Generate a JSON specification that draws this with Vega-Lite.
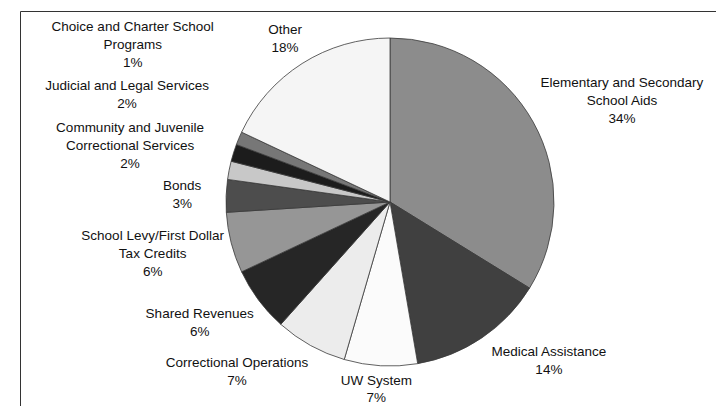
{
  "$schema": "https://vega.github.io/schema/vega-lite/v6.json",
  "width": 740,
  "height": 382,
  "autosize": {"type": "none"},
  "padding": {"left": 20, "top": 11, "right": 0, "bottom": 24},
  "background": "white",
  "config": {"view": {"stroke": null}},
  "data": {
    "values": [
      {"category": "Elementary and Secondary School Aids", "label": "Elementary and Secondary\nSchool Aids\n34%", "value": 33.8, "order": 1},
      {"category": "Medical Assistance", "label": "Medical Assistance\n14%", "value": 13.5, "order": 2},
      {"category": "UW System", "label": "UW System\n7%", "value": 7.2, "order": 3},
      {"category": "Correctional Operations", "label": "Correctional Operations\n7%", "value": 7.1, "order": 4},
      {"category": "Shared Revenues", "label": "Shared Revenues\n6%", "value": 6.4, "order": 5},
      {"category": "School Levy/First Dollar Tax Credits", "label": "School Levy/First Dollar\nTax Credits\n6%", "value": 6.0, "order": 6},
      {"category": "Bonds", "label": "Bonds\n3%", "value": 3.2, "order": 7},
      {"category": "Community and Juvenile Correctional Services", "label": "Community and Juvenile\nCorrectional Services\n2%", "value": 1.8, "order": 8},
      {"category": "Judicial and Legal Services", "label": "Judicial and Legal Services\n2%", "value": 1.7, "order": 9},
      {"category": "Choice and Charter School Programs", "label": "Choice and Charter School\nPrograms\n1%", "value": 1.3, "order": 10},
      {"category": "Other", "label": "Other\n18%", "value": 18.0, "order": 11}
    ]
  },
  "layer": [
    {
      "mark": {"type": "point", "opacity": 0},
      "encoding": {
        "x": {"datum": 0, "type": "quantitative", "scale": {"domain": [0, 1]},
              "axis": {"orient": "top", "domain": true, "domainColor": "#333333", "domainWidth": 1, "ticks": false, "labels": false, "grid": false, "title": null}},
        "y": {"datum": 0, "type": "quantitative", "scale": {"domain": [0, 1], "range": [395, 0]},
              "axis": {"orient": "left", "domain": true, "domainColor": "#333333", "domainWidth": 1, "ticks": false, "labels": false, "grid": false, "title": null}}
      }
    },
    {
      "mark": {"type": "arc", "outerRadius": 164, "stroke": "#3a3a3a", "strokeWidth": 0.8},
      "encoding": {
        "theta": {"field": "value", "type": "quantitative", "stack": true, "scale": {"domain": [0, 100]}},
        "order": {"field": "order", "type": "quantitative"},
        "color": {
          "field": "category", "type": "nominal", "legend": null,
          "scale": {
            "domain": ["Elementary and Secondary School Aids", "Medical Assistance", "UW System", "Correctional Operations", "Shared Revenues", "School Levy/First Dollar Tax Credits", "Bonds", "Community and Juvenile Correctional Services", "Judicial and Legal Services", "Choice and Charter School Programs", "Other"],
            "range": ["#8c8c8c", "#404040", "#fbfbfb", "#ececec", "#262626", "#969696", "#4d4d4d", "#c8c8c8", "#1c1c1c", "#777777", "#f5f5f5"]
          }
        }
      }
    },
    {
      "mark": {"type": "text", "radius": 253, "dx": 11, "dy": 4, "font": "Liberation Sans", "fontSize": 13.5, "lineHeight": 18, "lineBreak": "\n", "align": "center", "baseline": "middle", "color": "#111111"},
      "encoding": {
        "theta": {"field": "value", "type": "quantitative", "stack": true},
        "order": {"field": "order", "type": "quantitative"},
        "text": {"condition": {"test": "datum.order === 1", "field": "label"}, "value": ""}
      }
    },
    {
      "mark": {"type": "text", "radius": 225, "dx": 33, "dy": -36, "font": "Liberation Sans", "fontSize": 13.5, "lineHeight": 18, "lineBreak": "\n", "align": "center", "baseline": "middle", "color": "#111111"},
      "encoding": {
        "theta": {"field": "value", "type": "quantitative", "stack": true},
        "order": {"field": "order", "type": "quantitative"},
        "text": {"condition": {"test": "datum.order === 2", "field": "label"}, "value": ""}
      }
    },
    {
      "mark": {"type": "text", "radius": 190, "dx": -3, "dy": -11, "font": "Liberation Sans", "fontSize": 13.5, "lineHeight": 17, "lineBreak": "\n", "align": "center", "baseline": "middle", "color": "#111111"},
      "encoding": {
        "theta": {"field": "value", "type": "quantitative", "stack": true},
        "order": {"field": "order", "type": "quantitative"},
        "text": {"condition": {"test": "datum.order === 3", "field": "label"}, "value": ""}
      }
    },
    {
      "mark": {"type": "text", "radius": 229, "dx": -42, "dy": -39, "font": "Liberation Sans", "fontSize": 13.5, "lineHeight": 18, "lineBreak": "\n", "align": "center", "baseline": "middle", "color": "#111111"},
      "encoding": {
        "theta": {"field": "value", "type": "quantitative", "stack": true},
        "order": {"field": "order", "type": "quantitative"},
        "text": {"condition": {"test": "datum.order === 4", "field": "label"}, "value": ""}
      }
    },
    {
      "mark": {"type": "text", "radius": 225, "dx": -10, "dy": -23, "font": "Liberation Sans", "fontSize": 13.5, "lineHeight": 18, "lineBreak": "\n", "align": "center", "baseline": "middle", "color": "#111111"},
      "encoding": {
        "theta": {"field": "value", "type": "quantitative", "stack": true},
        "order": {"field": "order", "type": "quantitative"},
        "text": {"condition": {"test": "datum.order === 5", "field": "label"}, "value": ""}
      }
    },
    {
      "mark": {"type": "text", "radius": 243, "dx": -2, "dy": -26, "font": "Liberation Sans", "fontSize": 13.5, "lineHeight": 18, "lineBreak": "\n", "align": "center", "baseline": "middle", "color": "#111111"},
      "encoding": {
        "theta": {"field": "value", "type": "quantitative", "stack": true},
        "order": {"field": "order", "type": "quantitative"},
        "text": {"condition": {"test": "datum.order === 6", "field": "label"}, "value": ""}
      }
    },
    {
      "mark": {"type": "text", "radius": 208, "dx": 0, "dy": -8, "font": "Liberation Sans", "fontSize": 13.5, "lineHeight": 18, "lineBreak": "\n", "align": "center", "baseline": "middle", "color": "#111111"},
      "encoding": {
        "theta": {"field": "value", "type": "quantitative", "stack": true},
        "order": {"field": "order", "type": "quantitative"},
        "text": {"condition": {"test": "datum.order === 7", "field": "label"}, "value": ""}
      }
    },
    {
      "mark": {"type": "text", "radius": 266, "dx": 1, "dy": -23, "font": "Liberation Sans", "fontSize": 13.5, "lineHeight": 18, "lineBreak": "\n", "align": "center", "baseline": "middle", "color": "#111111"},
      "encoding": {
        "theta": {"field": "value", "type": "quantitative", "stack": true},
        "order": {"field": "order", "type": "quantitative"},
        "text": {"condition": {"test": "datum.order === 8", "field": "label"}, "value": ""}
      }
    },
    {
      "mark": {"type": "text", "radius": 284, "dx": 8, "dy": -31, "font": "Liberation Sans", "fontSize": 13.5, "lineHeight": 18, "lineBreak": "\n", "align": "center", "baseline": "middle", "color": "#111111"},
      "encoding": {
        "theta": {"field": "value", "type": "quantitative", "stack": true},
        "order": {"field": "order", "type": "quantitative"},
        "text": {"condition": {"test": "datum.order === 9", "field": "label"}, "value": ""}
      }
    },
    {
      "mark": {"type": "text", "radius": 301, "dx": 20, "dy": -58, "font": "Liberation Sans", "fontSize": 13.5, "lineHeight": 18, "lineBreak": "\n", "align": "center", "baseline": "middle", "color": "#111111"},
      "encoding": {
        "theta": {"field": "value", "type": "quantitative", "stack": true},
        "order": {"field": "order", "type": "quantitative"},
        "text": {"condition": {"test": "datum.order === 10", "field": "label"}, "value": ""}
      }
    },
    {
      "mark": {"type": "text", "radius": 194, "dx": -1, "dy": -8, "font": "Liberation Sans", "fontSize": 13.5, "lineHeight": 18, "lineBreak": "\n", "align": "center", "baseline": "middle", "color": "#111111"},
      "encoding": {
        "theta": {"field": "value", "type": "quantitative", "stack": true},
        "order": {"field": "order", "type": "quantitative"},
        "text": {"condition": {"test": "datum.order === 11", "field": "label"}, "value": ""}
      }
    }
  ]
}
